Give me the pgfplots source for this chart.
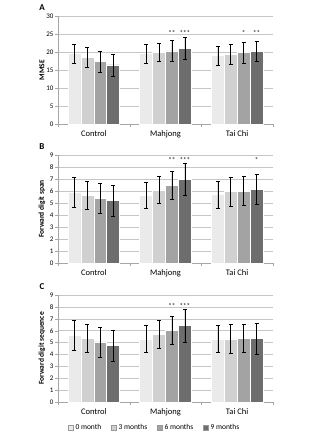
\documentclass[border=0pt]{standalone}
\usepackage{pgfplots}
\pgfplotsset{compat=1.18}
\usepackage{pgfplotstable}
\usepackage{fontspec}
\setmainfont{Carlito}

\definecolor{c1}{HTML}{EAEAEA}
\definecolor{c2}{HTML}{D0D0D0}
\definecolor{c3}{HTML}{A3A3A3}
\definecolor{c4}{HTML}{6D6D6D}

\pgfplotstableread{
x m1 e1 m2 e2 m3 e3 m4 e4
0 19.5 2.7 18.5 2.8 17.4 2.9 16.4 3.0
1 19.5 2.6 19.9 2.6 20.3 2.9 21.0 3.0
2 19.0 2.6 19.3 2.8 19.8 2.9 20.2 2.9
}\dataA
\pgfplotstableread{
x m1 e1 m2 e2 m3 e3 m4 e4
0 5.90 1.25 5.65 1.20 5.40 1.25 5.20 1.30
1 5.65 1.10 6.10 1.10 6.50 1.15 7.00 1.35
2 5.70 1.15 5.95 1.20 6.00 1.20 6.15 1.25
}\dataB
\pgfplotstableread{
x m1 e1 m2 e2 m3 e3 m4 e4
0 5.60 1.25 5.35 1.20 5.05 1.25 4.75 1.30
1 5.30 1.15 5.70 1.15 6.05 1.20 6.42 1.40
2 5.30 1.15 5.30 1.20 5.35 1.20 5.35 1.30
}\dataC

\pgfplotsset{
  panel/.style={
    width=215pt, scale only axis,
    xmin=-0.5, xmax=2.5, ymin=0,
    ybar=0pt, bar width=0.18,
    axis lines=left, axis line style={-, draw=gray!70},
    xtick={0,1,2}, xticklabels={Control,Mahjong,Tai Chi},
    major x tick style={draw=none},
    minor xtick={-0.5,0.5,1.5,2.5},
    ymajorgrids, grid style={gray!45, line width=0.4pt},
    tick align=outside, tick style={gray!70},
    major tick length=3pt, minor tick length=3pt,
    xticklabel style={font=\fontsize{8.5}{9}\selectfont},
    yticklabel style={font=\fontsize{7}{8}\selectfont, xshift=2pt},
    ylabel style={font=\bfseries\fontsize{7.5}{9}\selectfont, at={(axis description cs:-0.075,0.5)}, anchor=center},
    /pgf/number format/assume math mode=true,
    clip=false,
  },
  eb/.style={
    error bars/.cd, y dir=both, y explicit,
    error bar style={black, line width=0.5pt},
    error mark options={rotate=90, mark size=2pt, black, line width=0.5pt},
  },
}

\newcommand{\bars}[1]{%
  \addplot[fill=c1, draw=white, line width=0.6pt, eb] table[x=x, y=m1, y error=e1]{#1};
  \addplot[fill=c2, draw=white, line width=0.6pt, eb] table[x=x, y=m2, y error=e2]{#1};
  \addplot[fill=c3, draw=white, line width=0.6pt, eb] table[x=x, y=m3, y error=e3]{#1};
  \addplot[fill=c4, draw=white, line width=0.6pt, eb] table[x=x, y=m4, y error=e4]{#1};
}

\begin{document}
\begin{tikzpicture}
\useasboundingbox (0,0) rectangle (324pt,436pt);
\tikzset{star/.style={font=\fontsize{7}{8}\selectfont, inner sep=0pt}}

\begin{axis}[panel, at={(58pt,312pt)}, anchor=south west, height=108pt,
  ymax=30, ytick={0,5,...,30}, ylabel={MMSE}]
\bars{\dataA}
\node[star] at (axis cs:1.09,25.2) {**};
\node[star] at (axis cs:1.27,25.2) {***};
\node[star] at (axis cs:2.09,25.2) {*};
\node[star] at (axis cs:2.27,25.2) {**};
\end{axis}

\begin{axis}[panel, at={(58pt,173pt)}, anchor=south west, height=108pt,
  ymax=9, ytick={0,1,...,9}, ylabel={Forward digit span}]
\bars{\dataB}
\node[star] at (axis cs:1.09,8.55) {**};
\node[star] at (axis cs:1.27,8.55) {***};
\node[star] at (axis cs:2.27,8.55) {*};
\end{axis}

\begin{axis}[panel, at={(58pt,34pt)}, anchor=south west, height=107pt,
  ymax=9, ytick={0,1,...,9}, ylabel={Forward digit sequence},
  legend style={at={(axis description cs:0.45,-0.243)}, anchor=center, draw=none,
    legend columns=4, font=\fontsize{7.5}{8}\selectfont,
    /tikz/every even column/.append style={column sep=8pt}},
  legend image code/.code={\draw[#1, draw=gray!80, line width=0.3pt] (0pt,-2.5pt) rectangle (5pt,2.5pt);}]
\bars{\dataC}
\node[star] at (axis cs:1.09,8.1) {**};
\node[star] at (axis cs:1.27,8.1) {***};
\legend{0 month, 3 months, 6 months, 9 months}
\end{axis}

\node[font=\bfseries\fontsize{9}{10}\selectfont] at (42pt,428pt) {A};
\node[font=\bfseries\fontsize{9}{10}\selectfont] at (42pt,289pt) {B};
\node[font=\bfseries\fontsize{9}{10}\selectfont] at (42pt,149pt) {C};
\end{tikzpicture}
\end{document}
